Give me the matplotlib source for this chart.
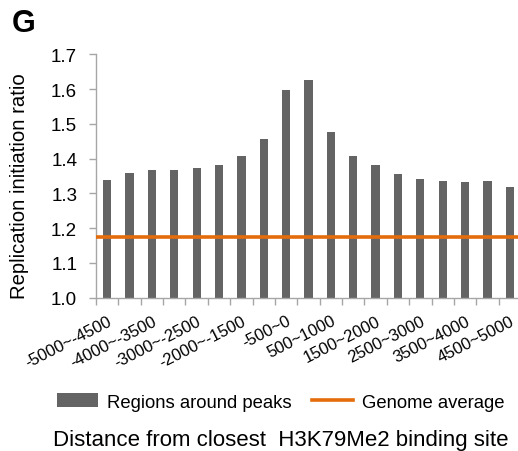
import matplotlib
matplotlib.use("Agg")
import matplotlib.pyplot as plt
import numpy as np

plt.rcParams['font.family'] = ['Liberation Sans', 'DejaVu Sans']

categories = ["-5000~-4500", "-4500~-4000", "-4000~-3500", "-3500~-3000", "-3000~-2500",
              "-2500~-2000", "-2000~-1500", "-1500~-1000", "-500~0", "0~500",
              "500~1000", "1000~1500", "1500~2000", "2000~2500", "2500~3000",
              "3000~3500", "3500~4000", "4000~4500", "4500~5000"]
values = [1.338, 1.360, 1.368, 1.368, 1.374, 1.382, 1.407, 1.455, 1.596, 1.626,
          1.476, 1.407, 1.382, 1.357, 1.340, 1.337, 1.332, 1.335, 1.318]
genome_average = 1.175
yticks = [1.0, 1.1, 1.2, 1.3, 1.4, 1.5, 1.6, 1.7]

fig = plt.figure(figsize=(5.18, 4.52), dpi=100)
ax = fig.add_axes([96/518, 153.3/452, 425/518, 243.4/452])

x = np.arange(len(categories))
bars = ax.bar(x, [v - 1.0 for v in values], bottom=1.0, width=0.37, color='#646464',
              label='Regions around peaks', zorder=2)
line = ax.axhline(genome_average, color='#E46C0A', lw=2.6, zorder=3, label='Genome average')

ax.set_xlim(-0.5, len(categories) - 0.5)
ax.set_ylim(1.0, 1.7)
ax.set_yticks(yticks)
ax.set_yticklabels([f"{t:.1f}" for t in yticks], fontsize=13.5)
ax.set_xticks(x)
ax.set_xticklabels([c if i % 2 == 0 else "" for i, c in enumerate(categories)],
                   rotation=27, ha='right', rotation_mode='anchor', fontsize=12)
ax.set_xticks(np.arange(len(categories) + 1) - 0.5, minor=True)
ax.tick_params(axis='x', which='major', length=0, pad=11)
ax.tick_params(axis='x', which='minor', length=5, color='#A6A6A6', width=1)
ax.tick_params(axis='y', length=5, color='#A6A6A6', width=1, pad=8.5)

for s in ['top', 'right']:
    ax.spines[s].set_visible(False)
for s in ['left', 'bottom']:
    ax.spines[s].set_color('#A6A6A6')
    ax.spines[s].set_linewidth(1)

ax.set_ylabel('Replication initiation ratio', fontsize=14.6)
ax.yaxis.set_label_coords(-0.158, 0.464)

fig.legend(handles=[bars, line], labels=['Regions around peaks', 'Genome average'],
           loc='center', bbox_to_anchor=(281/518, 1 - 403/452), ncol=2, frameon=False,
           fontsize=13.3, handlelength=2.2, handleheight=0.8, columnspacing=1.1, handletextpad=0.5)

fig.text(281/518, 1 - 441/452, 'Distance from closest  H3K79Me2 binding site',
         ha='center', va='center', fontsize=16)
fig.text(12/518, 1 - 24/452, 'G', ha='left', va='center', fontsize=22, fontweight='bold')

fig.savefig('out.png', dpi=100)
